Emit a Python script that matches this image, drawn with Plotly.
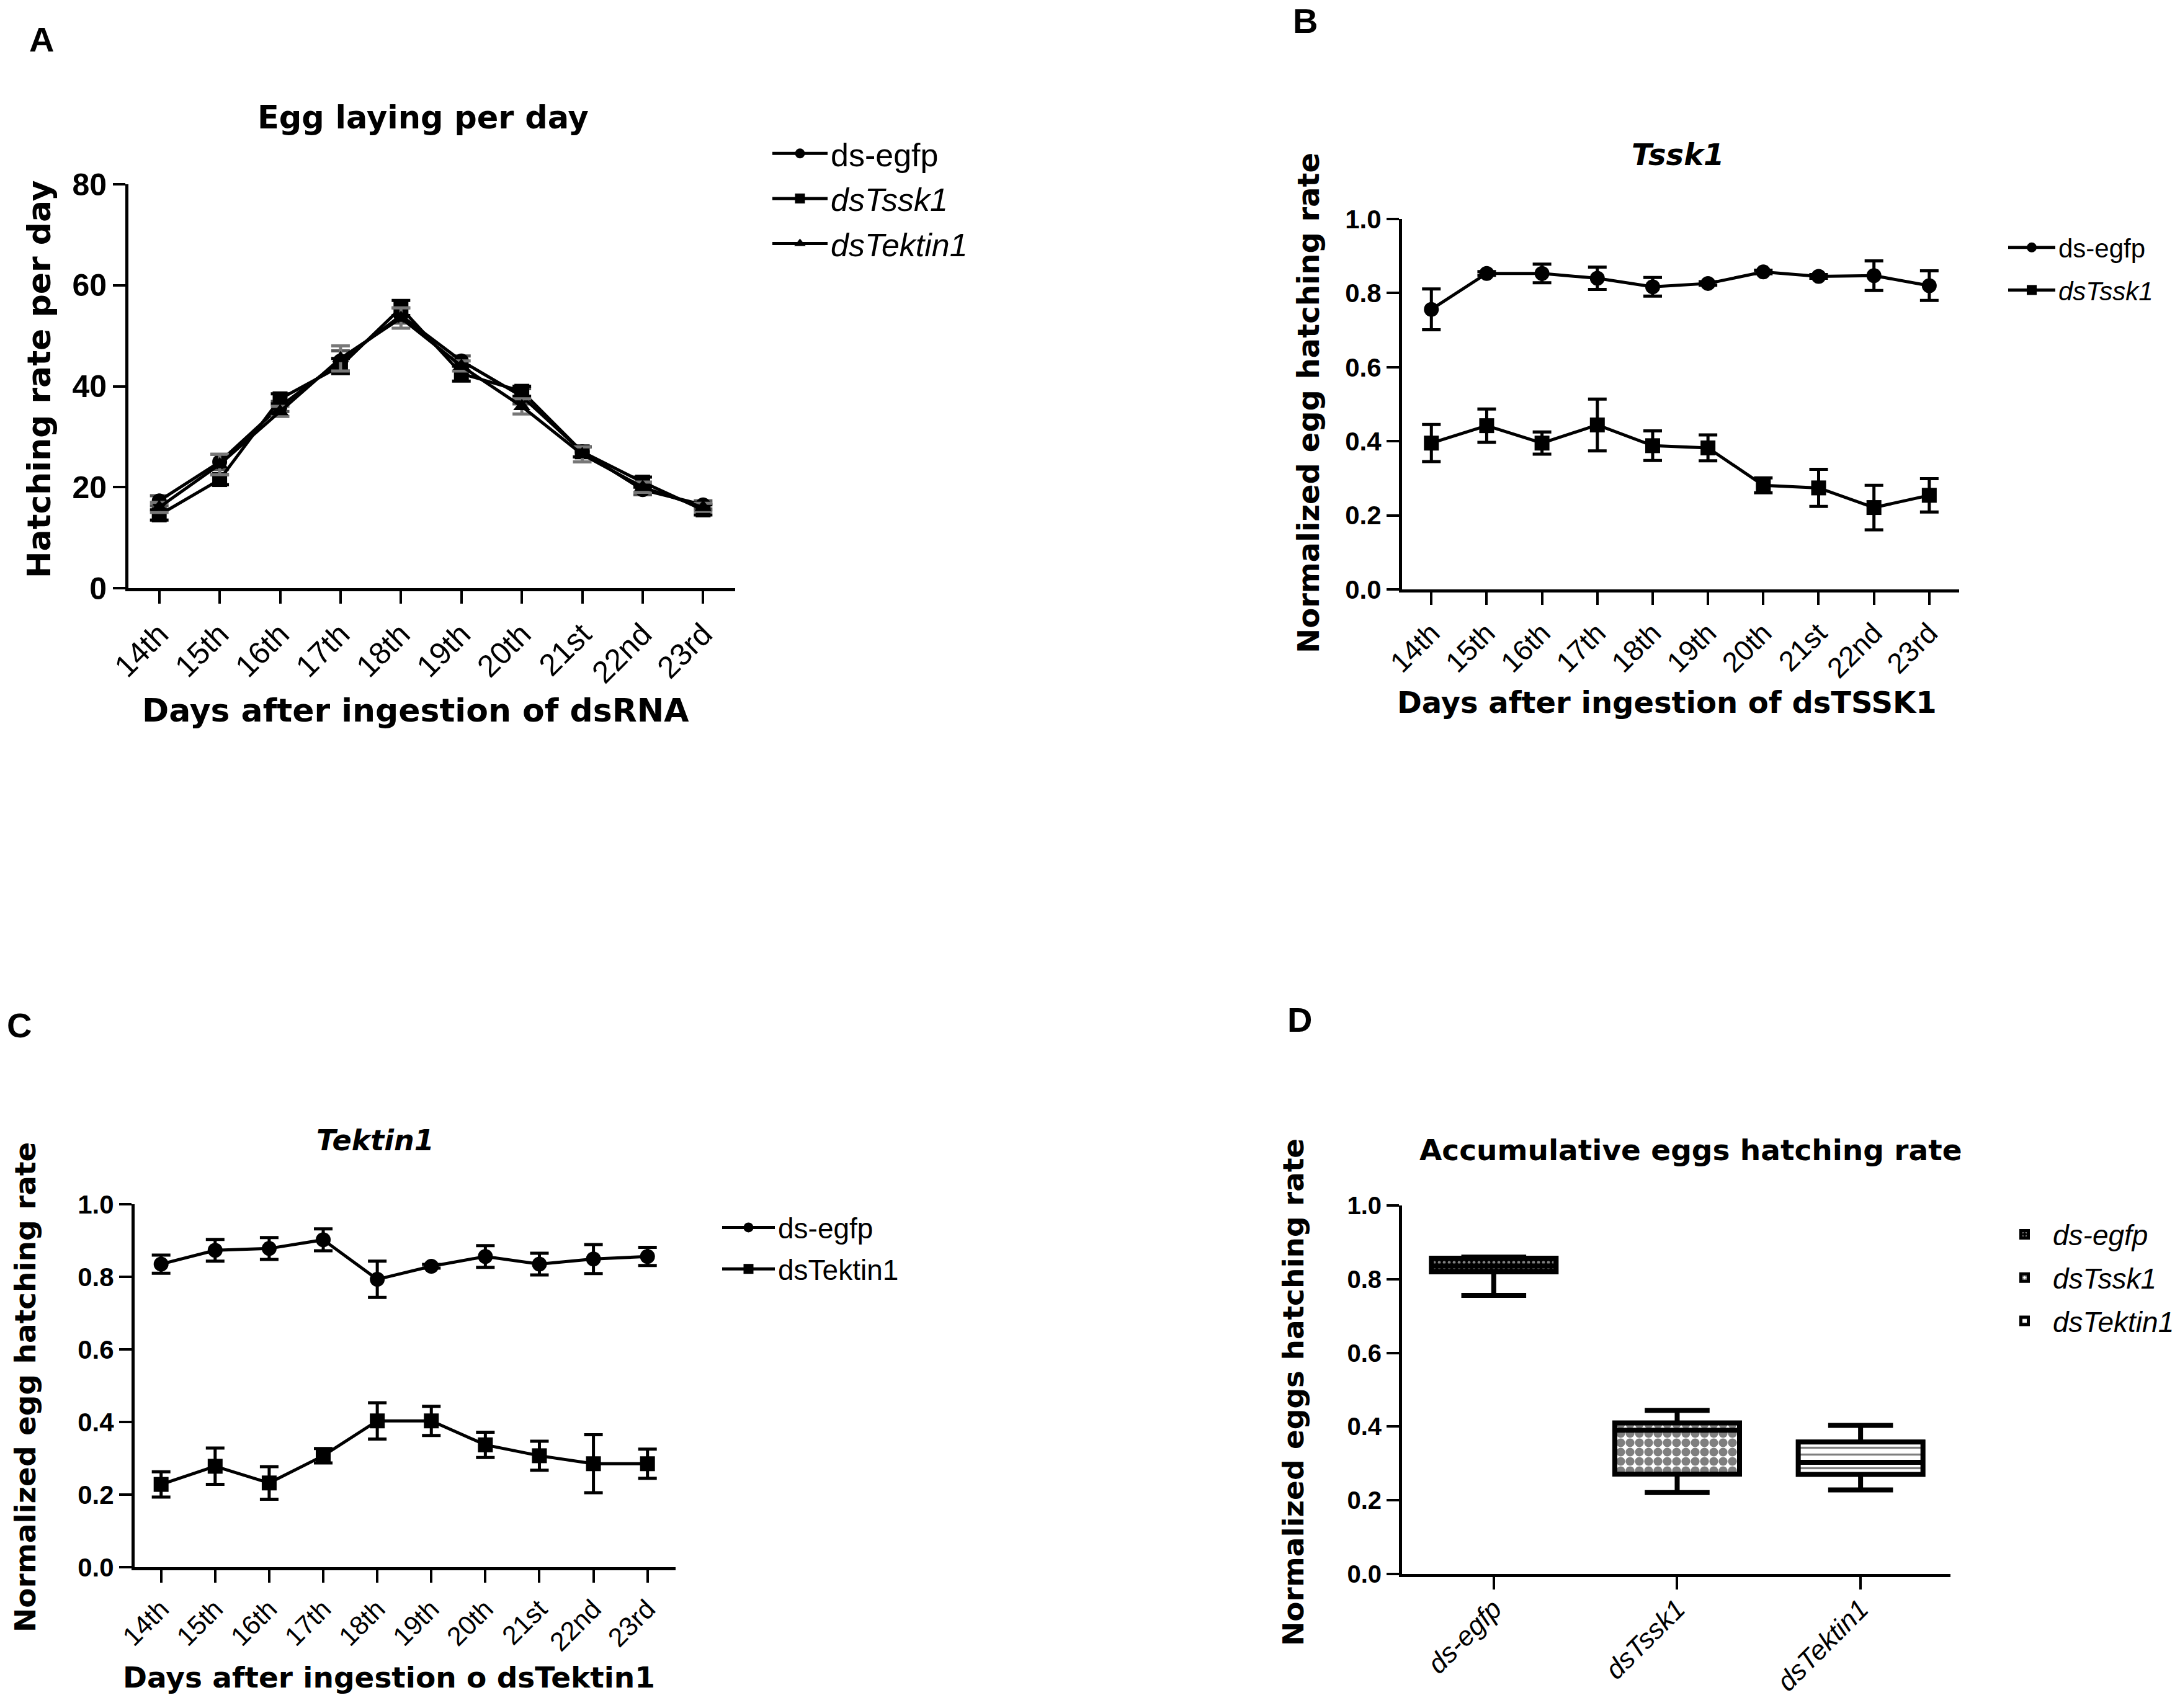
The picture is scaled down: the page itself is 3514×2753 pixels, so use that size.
import plotly.graph_objects as go

# ---------------- data ----------------
days = ["14th", "15th", "16th", "17th", "18th", "19th", "20th", "21st", "22nd", "23rd"]

# Panel A: egg laying per day
egg_egfp = [17.3, 25.0, 36.0, 45.0, 54.0, 45.0, 38.0, 27.0, 19.5, 16.5]
egg_egfp_err = [1.0, 1.5, 1.0, 2.0, 1.5, 1.0, 1.5, 1.0, 1.0, 0.8]
egg_tssk1 = [14.5, 21.5, 37.5, 44.0, 55.5, 42.5, 39.0, 27.0, 21.0, 15.5]
egg_tssk1_err = [1.0, 1.0, 1.0, 1.5, 1.5, 1.5, 1.0, 1.0, 1.0, 1.0]
egg_tektin1 = [16.0, 24.5, 35.0, 45.5, 53.5, 44.0, 36.0, 26.5, 20.0, 16.0]
egg_tektin1_err = [1.0, 2.0, 1.0, 2.5, 2.0, 1.0, 1.5, 1.5, 1.0, 0.8]

# Panel B: Tssk1 normalized hatching rate
tssk_egfp = [0.756, 0.853, 0.853, 0.840, 0.817, 0.826, 0.857, 0.845, 0.847, 0.820]
tssk_egfp_err = [0.055, 0.005, 0.025, 0.030, 0.025, 0.005, 0.005, 0.005, 0.040, 0.040]
tssk_ds = [0.395, 0.442, 0.395, 0.444, 0.388, 0.382, 0.281, 0.274, 0.221, 0.254]
tssk_ds_err = [0.050, 0.045, 0.030, 0.070, 0.040, 0.035, 0.020, 0.050, 0.060, 0.045]

# Panel C: Tektin1 normalized hatching rate
tek_egfp = [0.835, 0.873, 0.878, 0.902, 0.793, 0.829, 0.856, 0.835, 0.849, 0.856]
tek_egfp_err = [0.025, 0.030, 0.030, 0.030, 0.050, 0.005, 0.030, 0.030, 0.040, 0.025]
tek_ds = [0.228, 0.278, 0.232, 0.307, 0.403, 0.403, 0.337, 0.307, 0.285, 0.285]
tek_ds_err = [0.035, 0.050, 0.045, 0.020, 0.050, 0.040, 0.035, 0.040, 0.080, 0.040]

# Panel D: accumulative hatching rate (box summary)
groups = ["ds-egfp", "dsTssk1", "dsTektin1"]
group_labels = ["<i>ds-egfp</i>", "<i>dsTssk1</i>", "<i>dsTektin1</i>"]
box_min = [0.756, 0.221, 0.228]
box_q1 = [0.820, 0.271, 0.270]
box_median = [0.836, 0.390, 0.303]
box_q3 = [0.857, 0.410, 0.358]
box_max = [0.860, 0.444, 0.403]

# ---------------- layout helpers ----------------
W, H = 3514, 2753


def px_x(p):
    return p / W


def px_y(p):
    return 1 - p / H


TITLE_FONT = "DejaVu Sans"
TICK_FONT = "Liberation Sans Narrow, Liberation Sans, Arial"
TEXT_FONT = "Liberation Sans, Arial"

fig = go.Figure()

LW = 5
MS = 24


def add_series(x, y, err, name, symbol, xa, ya, legend, group, ecolor="black"):
    fig.add_trace(go.Scatter(
        x=x, y=y, name=name, mode="lines+markers",
        xaxis=xa, yaxis=ya, legend=legend, legendgroup=group,
        line=dict(color="black", width=LW),
        marker=dict(symbol=symbol, size=MS, color="black"),
        error_y=dict(type="data", array=err, visible=True,
                     color=ecolor, thickness=LW, width=15),
    ))


# Panel A
add_series(days, egg_egfp, egg_egfp_err, "ds-egfp", "circle", "x", "y", "legend", "a1", "#555555")
add_series(days, egg_tssk1, egg_tssk1_err, "<i>dsTssk1</i>", "square", "x", "y", "legend", "a2")
add_series(days, egg_tektin1, egg_tektin1_err, "<i>dsTektin1</i>", "triangle-up", "x", "y", "legend", "a3", "#777777")

# Panel B
add_series(days, tssk_egfp, tssk_egfp_err, "ds-egfp", "circle", "x2", "y2", "legend2", "b1")
add_series(days, tssk_ds, tssk_ds_err, "<i>dsTssk1</i>", "square", "x2", "y2", "legend2", "b2")

# Panel C
add_series(days, tek_egfp, tek_egfp_err, "ds-egfp", "circle", "x3", "y3", "legend3", "c1")
add_series(days, tek_ds, tek_ds_err, "dsTektin1", "square", "x3", "y3", "legend3", "c2")

# Panel D: patterned boxes (bar from q1 to q3) + box outline / whiskers
patterns = [
    dict(shape=".", size=8, solidity=0.3, fgcolor="white", bgcolor="black"),
    dict(shape=".", size=15, solidity=0.7, fgcolor="black", bgcolor="white"),
    dict(shape="-", size=11, solidity=0.3, fgcolor="black", bgcolor="white"),
]
for i, g in enumerate(groups):
    fig.add_trace(go.Bar(
        x=[g], y=[box_q3[i] - box_q1[i]], base=[box_q1[i]],
        name=group_labels[i], width=0.68,
        xaxis="x4", yaxis="y4", legend="legend4", legendgroup="d%d" % i,
        marker=dict(color="white", pattern=patterns[i],
                    line=dict(color="black", width=7)),
    ))
fig.add_trace(go.Box(
    x=groups, q1=box_q1, median=box_median, q3=box_q3,
    lowerfence=box_min, upperfence=box_max,
    xaxis="x4", yaxis="y4", showlegend=False,
    width=0.68, whiskerwidth=0.52,
    fillcolor="rgba(0,0,0,0)",
    line=dict(color="black", width=8),
    boxpoints=False,
))

# ---------------- axes ----------------
axis_common = dict(
    showline=True, linecolor="black", linewidth=5,
    ticks="outside", ticklen=20, tickwidth=4, tickcolor="black",
    showgrid=False, zeroline=False, mirror=False, automargin=False,
)


def xaxis(dom_px, rng, anchor, size, tickvals=None, ticktext=None, standoff=0):
    d = dict(axis_common)
    d.update(domain=[px_x(dom_px[0]), px_x(dom_px[1])], range=rng, anchor=anchor,
             type="category", tickangle=-45, ticklabelstandoff=standoff,
             tickfont=dict(family=TEXT_FONT, size=size, color="black"))
    if tickvals is not None:
        d.update(tickmode="array", tickvals=tickvals, ticktext=ticktext)
    return d


def yaxis(dom_px, rng, anchor, size, dtick, fmt):
    d = dict(axis_common)
    d.update(domain=[px_y(dom_px[1]), px_y(dom_px[0])], range=rng, anchor=anchor,
             dtick=dtick, tick0=0, tickformat=fmt,
             tickfont=dict(family=TICK_FONT, size=size, color="black", weight="bold"))
    return d


def legend_box(x, y, size, itemwidth, gap):
    return dict(x=px_x(x), y=px_y(y), xanchor="left", yanchor="top",
                font=dict(family=TEXT_FONT, size=size, color="black"),
                itemwidth=itemwidth, tracegroupgap=gap, bgcolor="rgba(0,0,0,0)")


fig.update_layout(
    width=W, height=H, autosize=False,
    margin=dict(l=0, r=0, t=0, b=0, pad=0, autoexpand=False),
    paper_bgcolor="white", plot_bgcolor="white",
    barmode="overlay",
    xaxis=xaxis([207, 1185], [-0.51, 9.53], "y", 50),
    yaxis=yaxis([297, 948], [0, 80], "x", 50, 20, "d"),
    xaxis2=xaxis([2260, 3158], [-0.53, 9.54], "y2", 46),
    yaxis2=yaxis([353, 950], [0, 1.0], "x2", 42, 0.2, ".1f"),
    xaxis3=xaxis([217, 1089], [-0.49, 9.52], "y3", 43),
    yaxis3=yaxis([1941, 2526], [0, 1.0], "x3", 42, 0.2, ".1f"),
    xaxis4=xaxis([2260, 3144], [-0.5, 2.49], "y4", 44, groups, group_labels, standoff=-12),
    yaxis4=yaxis([1943, 2537], [0, 1.0], "x4", 40, 0.2, ".1f"),
    legend=legend_box(1240, 207, 52, 89, 2),
    legend2=legend_box(3232, 365, 42, 76, 11),
    legend3=legend_box(1159, 1942, 46, 85, 4),
    legend4=legend_box(3218, 1953, 46, 81, 7),
)

# ---------------- text annotations ----------------
def note(text, x, y, size, family=TITLE_FONT, angle=0, weight="bold", style="normal"):
    fig.add_annotation(
        text=text, xref="paper", yref="paper", x=px_x(x), y=px_y(y),
        xanchor="center", yanchor="middle", showarrow=False, textangle=angle,
        font=dict(family=family, size=size, color="black", weight=weight, style=style),
    )


# panel letters
note("A", 67, 63, 56, family=TEXT_FONT)
note("B", 2104, 34, 56, family=TEXT_FONT)
note("C", 31, 1652, 56, family=TEXT_FONT)
note("D", 2095, 1643, 56, family=TEXT_FONT)

# panel titles
note("Egg laying per day", 682, 190, 51)
note("Tssk1", 2705, 249, 48, style="italic")
note("Tektin1", 605, 1838, 46, style="italic")
note("Accumulative eggs hatching rate", 2725, 1853, 47)

# axis titles
note("Hatching rate per day", 63, 612, 52, angle=-90)
note("Days after ingestion of dsRNA", 669, 1145, 52)
note("Normalized egg hatching rate", 2109, 650, 48, angle=-90)
note("Days after ingestion of dsTSSK1", 2687, 1132, 48)
note("Normalized egg hatching rate", 40, 2236, 47, angle=-90)
note("Days after ingestion o dsTektin1", 627, 2703, 47)
note("Normalized eggs hatching rate", 2084, 2244, 47, angle=-90)

fig.write_html(
    "out.html",
    config={"displayModeBar": False},
    post_script="document.body.style.margin='0px';"
                "document.documentElement.style.overflow='hidden';"
                "document.body.style.overflow='hidden';",
)
